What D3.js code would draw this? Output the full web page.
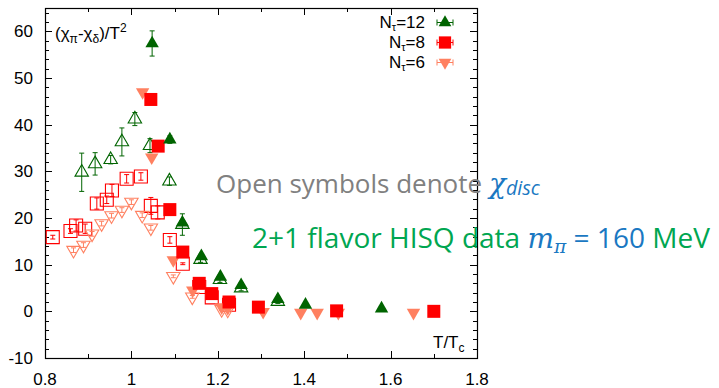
<!DOCTYPE html>
<html>
<head>
<meta charset="utf-8">
<script src="https://cdn.jsdelivr.net/npm/d3@7/dist/d3.min.js"></script>
<style>
  body { margin: 0; background: #fff; }
  svg text { font-family: "Liberation Sans", Arial, sans-serif; }
</style>
</head>
<body>
<svg id="chart" width="719" height="388"></svg>
<script>
// N_tau = 12, filled triangles
const n12X = [1.048, 1.089, 1.118, 1.162, 1.206, 1.254, 1.339, 1.403, 1.579];
const n12Y = [57.4, 36.8, 19.0, 11.8, 7.4, 5.6, 2.6, 1.4, 0.6];
const n12E = [2.7, 0.8, 0.5, 0.5, 0.5, 0.5, 0.3, 0.3, 0.2];
// N_tau = 12, open triangles (chi_disc)
const n12oX = [0.885, 0.916, 0.952, 0.978, 1.008, 1.043, 1.088, 1.118, 1.160, 1.205, 1.254, 1.339];
const n12oY = [29.8, 31.6, 32.5, 36.3, 41.2, 35.5, 27.9, 18.6, 11.1, 6.8, 5.0, 2.1];
const n12oE = [4.1, 2.4, 0.9, 3.0, 1.4, 1.5, 0.9, 2.3, 0.6, 0.6, 0.6, 0.4];

// N_tau = 8, filled squares
const n8X = [1.045, 1.062, 1.089, 1.119, 1.157, 1.186, 1.226, 1.294, 1.475, 1.700];
const n8Y = [45.4, 35.4, 21.8, 12.7, 6.0, 3.8, 2.0, 0.9, 0.1, 0.0];
const n8E = [0.5, 0.5, 0.4, 0.4, 0.3, 0.3, 0.2, 0.2, 0.1, 0.1];
// N_tau = 8, open squares
const n8oX = [0.818, 0.859, 0.872, 0.893, 0.920, 0.943, 0.955, 0.989, 1.022, 1.045, 1.061, 1.089, 1.119, 1.157, 1.186, 1.226];
const n8oY = [15.9, 17.2, 18.4, 17.7, 23.1, 23.9, 25.9, 28.4, 28.9, 22.6, 21.2, 15.3, 10.2, 5.2, 3.0, 1.4];
const n8oE = [0.4, 0.5, 1.2, 1.0, 1.2, 0.8, 1.3, 0.9, 0.8, 1.8, 1.4, 0.7, 0.2, 0.3, 0.3, 0.3];

// N_tau = 6, filled down triangles
const n6X = [1.026, 1.047, 1.097, 1.142, 1.209, 1.223, 1.305, 1.392, 1.430, 1.479, 1.653];
const n6Y = [47.0, 33.0, 11.0, 4.5, 0.9, 0.7, -0.1, -0.3, -0.3, -0.3, -0.3];
const n6E = [0.4, 0.4, 0.3, 0.3, 0.2, 0.2, 0.1, 0.1, 0.1, 0.1, 0.1];
// N_tau = 6, open down triangles
const n6oX = [0.866, 0.889, 0.909, 0.931, 0.954, 0.978, 1.000, 1.025, 1.045, 1.097, 1.141, 1.209, 1.223];
const n6oY = [13.1, 14.2, 16.6, 18.8, 20.5, 21.7, 23.4, 20.6, 17.9, 7.5, 3.1, 0.4, 0.3];
const n6oE = [0.5, 0.5, 0.5, 0.5, 0.5, 0.5, 0.5, 0.5, 0.5, 0.3, 0.3, 0.2, 0.2];

const xTicks = [0.8, 1, 1.2, 1.4, 1.6, 1.8];
const yTicks = [-10, 0, 10, 20, 30, 40, 50, 60];

const green = "#006400", red = "#ff0000", salmon = "#ff8060";

const svg = d3.select("#chart");
const pLeft = 45, pRight = 477, pTop = 8, pBottom = 358;

const x = d3.scaleLinear().domain([0.8, 1.8]).range([pLeft, pRight]);
const y = d3.scaleLinear().domain([-10, 65]).range([pBottom, pTop]);

// ticks on all four sides, pointing inward
const minorX = d3.range(0.8, 1.8001, 0.1);
const minorY = d3.range(-10, 65.001, 2);
const tk = svg.append("g").attr("stroke", "#000").attr("stroke-width", 1);
minorX.forEach(v => {
  const major = xTicks.some(t => Math.abs(t - v) < 1e-6);
  const len = major ? 7 : 4;
  const px = Math.round(x(v)) + 0.5;
  tk.append("line").attr("x1", px).attr("x2", px).attr("y1", pBottom).attr("y2", pBottom - len);
  tk.append("line").attr("x1", px).attr("x2", px).attr("y1", pTop).attr("y2", pTop + len);
});
minorY.forEach(v => {
  const major = yTicks.some(t => Math.abs(t - v) < 1e-6);
  const len = major ? 7 : 4;
  const py = Math.round(y(v)) + 0.5;
  tk.append("line").attr("x1", pLeft).attr("x2", pLeft + len).attr("y1", py).attr("y2", py);
  tk.append("line").attr("x1", pRight).attr("x2", pRight - len).attr("y1", py).attr("y2", py);
});

svg.append("rect").attr("x", pLeft + 0.5).attr("y", pTop + 0.5)
  .attr("width", pRight - pLeft).attr("height", pBottom - pTop)
  .attr("fill", "none").attr("stroke", "#000").attr("stroke-width", 1.2);

svg.append("g").selectAll("text").data(xTicks).enter().append("text")
  .attr("x", d => x(d)).attr("y", 385).attr("text-anchor", "middle")
  .attr("font-size", 17).text(d => d3.format("")(d));
svg.append("g").selectAll("text").data(yTicks).enter().append("text")
  .attr("x", 33).attr("y", d => y(d) + 6).attr("text-anchor", "end")
  .attr("font-size", 17).text(d => d);

// axis labels
const yl = svg.append("text").attr("x", 55).attr("y", 39).attr("font-size", 17);
yl.append("tspan").text("(χ");
yl.append("tspan").attr("font-size", 12).attr("dy", 4).text("π");
yl.append("tspan").attr("dy", -4).text("-χ");
yl.append("tspan").attr("font-size", 12).attr("dy", 4).text("δ");
yl.append("tspan").attr("dy", -4).text(")/T");
yl.append("tspan").attr("font-size", 12).attr("dy", -7).text("2");

const xl = svg.append("text").attr("x", 433).attr("y", 348).attr("font-size", 17);
xl.append("tspan").text("T/T");
xl.append("tspan").attr("font-size", 12).attr("dy", 4).text("c");

function symbolPath(shape) {
  if (shape === "square") return d3.symbol(d3.symbolSquare, 169)();
  return d3.symbol(d3.symbolTriangle, 78)();
}

function series(xs, ys, es, color, shape, filled) {
  const data = xs.map((v, i) => ({ x: v, y: ys[i], e: es[i] }));
  const g = svg.append("g");
  const eb = g.append("g").attr("stroke", color).attr("stroke-width", 1);
  data.forEach(d => {
    const cx = x(d.x), y1 = y(d.y - d.e), y2 = y(d.y + d.e);
    eb.append("line").attr("x1", cx).attr("x2", cx).attr("y1", y1).attr("y2", y2);
    eb.append("line").attr("x1", cx - 2.5).attr("x2", cx + 2.5).attr("y1", y1).attr("y2", y1);
    eb.append("line").attr("x1", cx - 2.5).attr("x2", cx + 2.5).attr("y1", y2).attr("y2", y2);
  });
  g.selectAll("path.pt").data(data).enter().append("path").attr("class", "pt")
    .attr("d", symbolPath(shape))
    .attr("transform", d => `translate(${x(d.x)},${y(d.y)})` + (shape === "down" ? " rotate(180)" : ""))
    .attr("fill", filled ? color : "none")
    .attr("stroke", color).attr("stroke-width", filled ? 0 : 1.1);
}

series(n12oX, n12oY, n12oE, green, "up", false);
series(n8oX, n8oY, n8oE, red, "square", false);
series(n6oX, n6oY, n6oE, salmon, "down", false);
series(n6X, n6Y, n6E, salmon, "down", true);
series(n8X, n8Y, n8E, red, "square", true);
series(n12X, n12Y, n12E, green, "up", true);

// legend
const legend = [
  { label: "12", color: green, shape: "up" },
  { label: "8", color: red, shape: "square" },
  { label: "6", color: salmon, shape: "down" }
];
legend.forEach((d, i) => {
  const by = 28 + i * 20, cy = 22.5 + i * 20;
  const t = svg.append("text").attr("x", 425).attr("y", by).attr("text-anchor", "end").attr("font-size", 17);
  t.append("tspan").text("N");
  t.append("tspan").attr("font-size", 11).attr("dy", 3).text("τ");
  t.append("tspan").attr("dy", -3).text("=" + d.label);
  const lg = svg.append("g").attr("stroke", d.color).attr("stroke-width", 1);
  lg.append("line").attr("x1", 437).attr("x2", 453).attr("y1", cy).attr("y2", cy);
  lg.append("line").attr("x1", 437).attr("x2", 437).attr("y1", cy - 3).attr("y2", cy + 3);
  lg.append("line").attr("x1", 453).attr("x2", 453).attr("y1", cy - 3).attr("y2", cy + 3);
  svg.append("path").attr("d", d.shape === "square" ? d3.symbol(d3.symbolSquare, 150)() : d3.symbol(d3.symbolTriangle, 70)())
    .attr("transform", `translate(445,${cy})` + (d.shape === "down" ? " rotate(180)" : ""))
    .attr("fill", d.color);
});

// annotations
const gray = "#808080", annGreen = "#00a651", blue = "#1a78c2";
const ann = "'Open Sans', Lato, sans-serif";
const mathFont = "'DejaVu Serif', serif";

const a1 = svg.append("text").attr("x", 216).attr("y", 193).style("font-family", ann).attr("font-size", 25);
a1.append("tspan").attr("fill", gray).text("Open symbols denote ");
a1.append("tspan").attr("fill", blue).attr("font-style", "italic").style("font-family", mathFont).attr("font-size", 27).text("χ");
a1.append("tspan").attr("fill", blue).attr("font-style", "italic").attr("font-size", 19).attr("dy", 2).text("disc");

const a2 = svg.append("text").attr("x", 252).attr("y", 248).style("font-family", ann).attr("font-size", 27);
a2.append("tspan").attr("fill", annGreen).text("2+1 flavor HISQ data ");
a2.append("tspan").attr("fill", blue).attr("font-style", "italic").style("font-family", mathFont).text("m");
a2.append("tspan").attr("fill", blue).attr("font-style", "italic").style("font-family", mathFont).attr("font-size", 18).attr("dy", 5).text("π");
a2.append("tspan").attr("fill", blue).attr("dy", -5).text(" = 160 ");
a2.append("tspan").attr("fill", annGreen).text("MeV");

// fit annotation widths to the reference
function fit(t, w) {
  const cur = t.node().getComputedTextLength();
  const k = w / cur;
  t.attr("font-size", +t.attr("font-size") * k);
  t.selectAll("tspan").each(function() {
    const s = d3.select(this);
    if (s.attr("font-size")) s.attr("font-size", +s.attr("font-size") * k);
    if (s.attr("dy")) s.attr("dy", +s.attr("dy") * k);
  });
}
fit(a1, 540 - 216);
fit(a2, 710 - 252);
</script>
</body>
</html>
